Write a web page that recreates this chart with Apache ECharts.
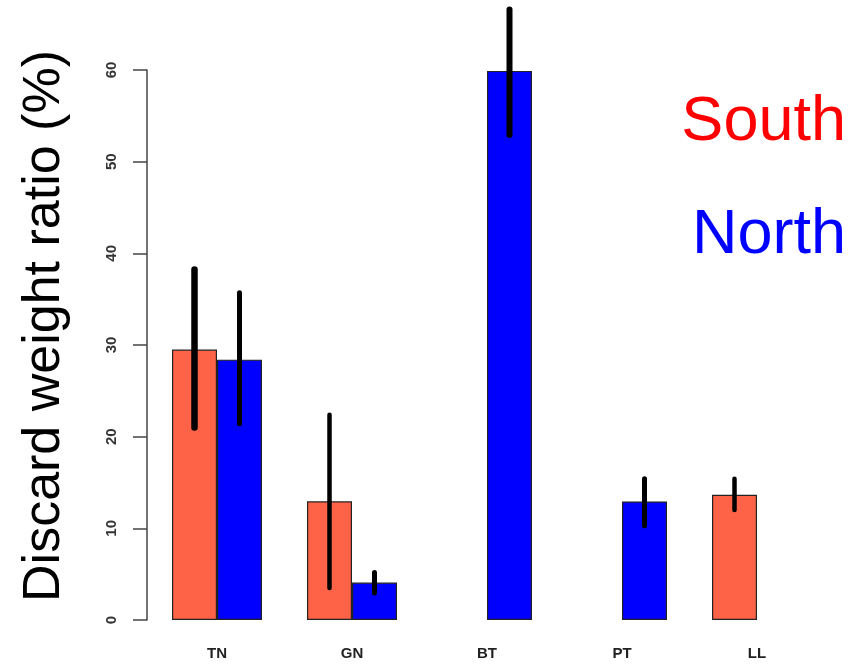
<!DOCTYPE html>
<html>
<head>
<meta charset="utf-8">
<script src="https://cdn.jsdelivr.net/npm/echarts@6/dist/echarts.min.js"></script>
<style>
  html, body { margin: 0; padding: 0; background: #fff; }
  #chart { width: 855px; height: 667px; }
</style>
</head>
<body>
<div id="chart"></div>
<script>
// Species groups along the x axis
const categories = ['TN', 'GN', 'BT', 'PT', 'LL'];
const yTicks = [0, 10, 20, 30, 40, 50, 60];

// Mean discard weight ratio (%) by region
const southValues = [29.5, 12.95, null, null, 13.66];
const northValues = [28.4, 4.08, 59.9, 12.93, null];

// Error bar bounds (%) by region
const southLow  = [21.0, 3.5, null, null, 12.0];
const southHigh = [38.25, 22.4, null, null, 15.4];
const northLow  = [21.4, 2.95, 52.9, 10.27, null];
const northHigh = [35.7, 5.17, 66.6, 15.4, null];

// Line widths of the error bars
const southErrWidth = [6.5, 4.5, 0, 0, 4.5];
const northErrWidth = [5, 5, 6, 5, 0];

const SOUTH_COLOR = '#FF6347';
const NORTH_COLOR = '#0000FF';
const BAR_W = 45;

function errorData(low, high, widths, side) {
  const out = [];
  for (let i = 0; i < categories.length; i++) {
    if (low[i] == null || high[i] == null) continue;
    out.push([i, low[i], high[i], side, widths[i]]);
  }
  return out;
}

const errorSeries = errorData(southLow, southHigh, southErrWidth, -1)
  .concat(errorData(northLow, northHigh, northErrWidth, 1));

const chart = echarts.init(document.getElementById('chart'), null, { renderer: 'canvas' });

chart.setOption({
  animation: false,
  grid: { left: 149.5, right: 30.5, top: 70, bottom: 47 },
  xAxis: {
    type: 'category',
    data: categories,
    axisLine: { show: false },
    axisTick: { show: false },
    axisLabel: {
      margin: 26,
      fontFamily: 'Liberation Sans, Arial, sans-serif',
      fontSize: 15,
      fontWeight: 'bold',
      color: '#222'
    }
  },
  yAxis: {
    type: 'value',
    min: yTicks[0],
    max: yTicks[yTicks.length - 1],
    interval: 10,
    offset: 2.5,
    splitLine: { show: false },
    axisLine: { show: true, lineStyle: { color: '#444', width: 1.5 } },
    axisTick: { show: true, length: 14, lineStyle: { color: '#444', width: 1.5 } },
    axisLabel: {
      rotate: 90,
      margin: 28,
      fontFamily: 'Liberation Sans, Arial, sans-serif',
      fontSize: 15,
      fontWeight: 'bold',
      color: '#333'
    }
  },
  series: [
    {
      name: 'South',
      type: 'bar',
      data: southValues,
      barWidth: BAR_W,
      barGap: '0%',
      itemStyle: { color: SOUTH_COLOR, borderColor: '#222', borderWidth: 1.2 }
    },
    {
      name: 'North',
      type: 'bar',
      data: northValues,
      barWidth: BAR_W,
      barGap: '0%',
      itemStyle: { color: NORTH_COLOR, borderColor: '#222', borderWidth: 1.2 }
    },
    {
      name: 'error',
      type: 'custom',
      clip: false,
      z: 10,
      data: errorSeries,
      renderItem: function (params, api) {
        const i = api.value(0);
        const lo = api.coord([i, api.value(1)]);
        const hi = api.coord([i, api.value(2)]);
        const x = lo[0] + api.value(3) * BAR_W / 2;
        return {
          type: 'line',
          shape: { x1: x, y1: lo[1], x2: x, y2: hi[1] },
          style: { stroke: '#000', lineWidth: api.value(4), lineCap: 'round' }
        };
      }
    }
  ],
  graphic: [
    {
      type: 'text',
      x: 45,
      y: 326,
      rotation: Math.PI / 2,
      style: {
        text: 'Discard weight ratio (%)',
        font: '52px "Liberation Sans", Arial, sans-serif',
        fill: '#000',
        textAlign: 'center',
        textVerticalAlign: 'middle'
      }
    },
    {
      type: 'text',
      x: 846,
      y: 123,
      style: {
        text: 'South',
        font: '63px "Liberation Sans", Arial, sans-serif',
        fill: '#FF0000',
        textAlign: 'right',
        textVerticalAlign: 'middle'
      }
    },
    {
      type: 'text',
      x: 846,
      y: 236,
      style: {
        text: 'North',
        font: '63px "Liberation Sans", Arial, sans-serif',
        fill: '#0000FF',
        textAlign: 'right',
        textVerticalAlign: 'middle'
      }
    }
  ]
});
</script>
</body>
</html>
